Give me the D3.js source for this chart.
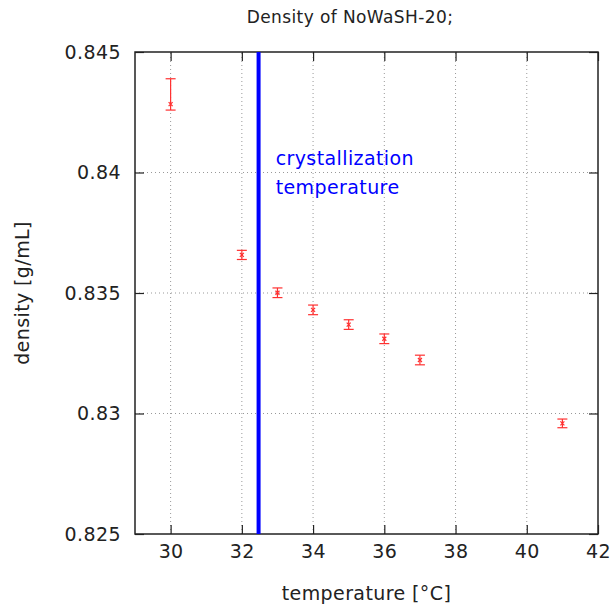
<!DOCTYPE html>
<html>
<head>
<meta charset="utf-8">
<script src="https://cdn.jsdelivr.net/npm/d3@7"></script>
<style>
  body { margin: 0; background: #fff; }
  text { font-family: "DejaVu Sans", sans-serif; fill: #222; letter-spacing: 0.4px; }
</style>
</head>
<body>
<div id="chart"></div>
<script>
// temperature [°C]
const temps = [30, 32, 33, 34, 35, 36, 37, 41];
// density [g/mL] and error bar bounds
const density = [0.84284, 0.83658, 0.83501, 0.83430, 0.83369, 0.83310, 0.83222, 0.82959];
const densLow = [0.84259, 0.83639, 0.83481, 0.83410, 0.83349, 0.83290, 0.83202, 0.82941];
const densHigh = [0.84389, 0.83677, 0.83521, 0.83450, 0.83389, 0.83330, 0.83242, 0.82977];

const xTicks = [30, 32, 34, 36, 38, 40, 42];
const yTicks = [0.825, 0.83, 0.835, 0.84, 0.845];
const crystTemp = 32.47;

const width = 614, height = 608;
const margin = {top: 52, right: 16, bottom: 74, left: 135};

const svg = d3.select("#chart").append("svg")
    .attr("width", width)
    .attr("height", height);

const x = d3.scaleLinear().domain([29, 42]).range([margin.left, width - margin.right]);
const y = d3.scaleLinear().domain([0.825, 0.845]).range([height - margin.bottom, margin.top]);

// grid
svg.append("g").selectAll("line.gx")
    .data(xTicks.slice(0, -1))
    .enter().append("line")
    .attr("x1", d => x(d)).attr("x2", d => x(d))
    .attr("y1", y(0.825)).attr("y2", y(0.845))
    .attr("stroke", "#999")
    .attr("stroke-dasharray", "1,3");

svg.append("g").selectAll("line.gy")
    .data(yTicks.slice(1, -1))
    .enter().append("line")
    .attr("y1", d => y(d)).attr("y2", d => y(d))
    .attr("x1", x(29)).attr("x2", x(42))
    .attr("stroke", "#999")
    .attr("stroke-dasharray", "1,3");

// axes (ticks inside, gnuplot style)
const tickLen = 9;
const fmt = d3.format(".3~f");

svg.append("g")
    .attr("transform", `translate(0,${y(0.825)})`)
    .call(d3.axisBottom(x).tickValues(xTicks).tickSize(-tickLen).tickPadding(11))
    .call(g => g.select(".domain").remove())
    .call(g => g.selectAll("text").style("font-size", "19px"));

svg.append("g")
    .attr("transform", `translate(0,${y(0.845)})`)
    .call(d3.axisTop(x).tickValues(xTicks).tickSize(-tickLen).tickFormat(""))
    .call(g => g.select(".domain").remove());

svg.append("g")
    .attr("transform", `translate(${x(29)},0)`)
    .call(d3.axisLeft(y).tickValues(yTicks).tickSize(-tickLen).tickPadding(14).tickFormat(fmt))
    .call(g => g.select(".domain").remove())
    .call(g => g.selectAll("text").style("font-size", "19px"));

svg.append("g")
    .attr("transform", `translate(${x(42)},0)`)
    .call(d3.axisRight(y).tickValues(yTicks).tickSize(-tickLen).tickFormat(""))
    .call(g => g.select(".domain").remove());

svg.selectAll(".tick line").attr("stroke", "#222").attr("stroke-width", 1.2);

// frame
svg.append("rect")
    .attr("x", x(29)).attr("y", y(0.845))
    .attr("width", x(42) - x(29))
    .attr("height", y(0.825) - y(0.845))
    .attr("fill", "none")
    .attr("stroke", "#222")
    .attr("stroke-width", 1.5);

// crystallization temperature
svg.append("line")
    .attr("x1", x(crystTemp)).attr("x2", x(crystTemp))
    .attr("y1", y(0.845)).attr("y2", y(0.825))
    .attr("stroke", "#0000ff")
    .attr("stroke-width", 4);

const lbl = svg.append("text")
    .attr("x", x(32.95))
    .attr("y", 165)
    .style("font-size", "19px")
    .style("fill", "#0000ff");
lbl.append("tspan").attr("x", x(32.95)).text("crystallization");
lbl.append("tspan").attr("x", x(32.95)).attr("dy", 28.5).text("temperature");

// error bars
const pts = temps.map((t, i) => ({t, v: density[i], lo: densLow[i], hi: densHigh[i]}));
const capW = 5;
const eb = svg.append("g").attr("stroke", "#ff3030").attr("stroke-width", 1.2);

eb.selectAll("line.v").data(pts).enter().append("line")
    .attr("x1", d => x(d.t)).attr("x2", d => x(d.t))
    .attr("y1", d => y(d.lo)).attr("y2", d => y(d.hi));
eb.selectAll("line.lo").data(pts).enter().append("line")
    .attr("x1", d => x(d.t) - capW).attr("x2", d => x(d.t) + capW)
    .attr("y1", d => y(d.lo)).attr("y2", d => y(d.lo));
eb.selectAll("line.hi").data(pts).enter().append("line")
    .attr("x1", d => x(d.t) - capW).attr("x2", d => x(d.t) + capW)
    .attr("y1", d => y(d.hi)).attr("y2", d => y(d.hi));

// point markers (small x)
const m = 2;
eb.selectAll("path.pt").data(pts).enter().append("path")
    .attr("d", d => `M${x(d.t) - m},${y(d.v) - m}L${x(d.t) + m},${y(d.v) + m}M${x(d.t) - m},${y(d.v) + m}L${x(d.t) + m},${y(d.v) - m}`)
    .attr("fill", "none");

// titles
svg.append("text")
    .attr("x", 350).attr("y", 23)
    .attr("text-anchor", "middle")
    .style("font-size", "17px")
    .text("Density of NoWaSH-20;");

svg.append("text")
    .attr("x", (x(29) + x(42)) / 2).attr("y", 600)
    .attr("text-anchor", "middle")
    .style("font-size", "19px")
    .text("temperature [°C]");

svg.append("text")
    .attr("transform", `translate(29,${(y(0.825) + y(0.845)) / 2}) rotate(-90)`)
    .attr("text-anchor", "middle")
    .style("font-size", "19px")
    .text("density [g/mL]");
</script>
</body>
</html>
